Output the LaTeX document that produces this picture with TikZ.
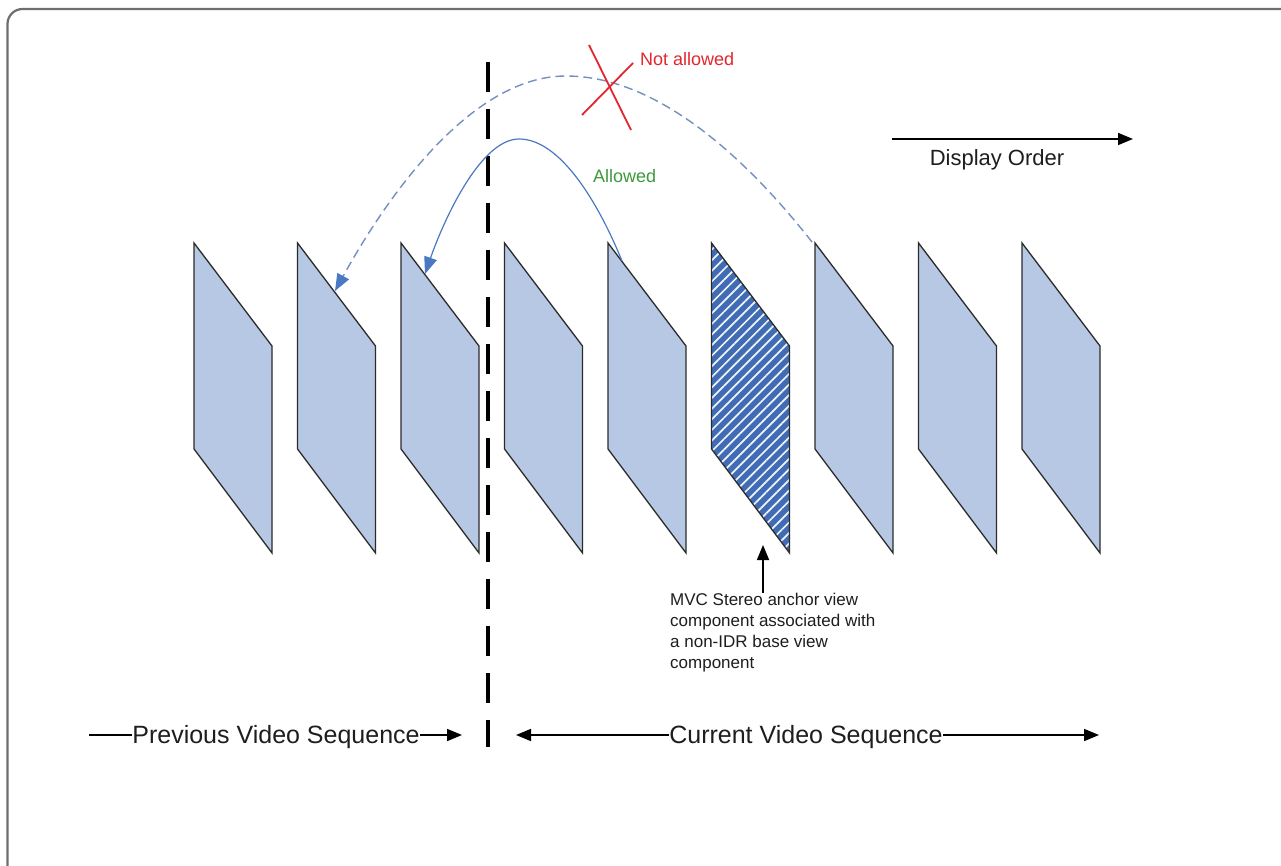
\documentclass[tikz,border=0pt]{standalone}
\usepackage{fontspec}
\setmainfont{Liberation Sans}
\usetikzlibrary{arrows.meta,patterns.meta}
\definecolor{framefill}{HTML}{B7C8E4}
\definecolor{hatchfill}{HTML}{3F6CB4}
\definecolor{edgecol}{HTML}{2B2B2B}
\definecolor{arcblue}{HTML}{4A78C2}
\definecolor{dashblue}{HTML}{7391C0}
\definecolor{notred}{HTML}{E3262E}
\definecolor{okgreen}{HTML}{3C9A3C}
\definecolor{txt}{HTML}{1E1E1E}
\definecolor{bordercol}{HTML}{6E6E6E}
\begin{document}
\begin{tikzpicture}[x=1pt,y=-1pt,
  picframe/.style={draw=edgecol, line width=1.3pt, fill=framefill, line join=miter},
  lbl/.style={inner sep=0.5pt, text=txt},
  blacktip/.style={-{Triangle[length=15pt,width=12pt]}, line width=1.6pt, draw=black},
  solidarc/.style={draw=arcblue, line width=1.2pt, -{Triangle[length=17pt,width=13pt,fill=arcblue,color=arcblue]}},
  dasharc/.style={draw=dashblue, line width=1.4pt, dash pattern=on 9pt off 5pt, -{Triangle[length=17pt,width=13pt,fill=arcblue,color=arcblue]}},
  seqline/.style={draw=black, line width=3.4pt, dash pattern=on 30pt off 17pt},
  redx/.style={draw=notred, line width=1.8pt}
]
\useasboundingbox (0,0) rectangle (1281,866);
\fill[white] (0,0) rectangle (1281,866);
% outer frame
\draw[bordercol, line width=2.2pt, rounded corners=15pt] (7.5,866) -- (7.5,9) -- (1281,9);

% picture frames
\foreach \i in {0,...,8} {
  \coordinate (f\i) at ({194+103.5*\i},243);
}
\foreach \i in {0,1,2,3,4,6,7,8} {
  \draw[picframe] (f\i) -- ++(78,103) -- ++(0,207) -- ++(-78,-104) -- cycle;
}
\fill[hatchfill] (f5) -- ++(78,103) -- ++(0,207) -- ++(-78,-104) -- cycle;
\fill[pattern={Lines[angle=45,distance=7.5pt,line width=1.7pt]}, pattern color=white!92!hatchfill]
  (f5) -- ++(78,103) -- ++(0,207) -- ++(-78,-104) -- cycle;
\draw[draw=edgecol, line width=1.3pt, line join=miter] (f5) -- ++(78,103) -- ++(0,207) -- ++(-78,-104) -- cycle;

% sequence boundary
\coordinate (septop) at (488,62);
\coordinate (sepbot) at (488,747);
\draw[seqline] (septop) -- (sepbot);

% arcs
\coordinate (dS) at (812,242);
\coordinate (dP) at (566,76);
\coordinate (dE) at (335,291);
\draw[dasharc] (dS) .. controls (757,172) and (665,76) .. (dP)
                    .. controls (470,76) and (385,200) .. (dE);
\coordinate (sS) at (622,261);
\coordinate (sP) at (519,139);
\coordinate (sE) at (425,274);
\draw[solidarc] (sS) .. controls (598,202) and (560,139) .. (sP)
                     .. controls (480,139) and (443,222) .. (sE);

% red cross
\coordinate (xa1) at (589,45);
\coordinate (xa2) at (631,130);
\coordinate (xb1) at (582,115);
\coordinate (xb2) at (633,63);
\draw[redx] (xa1) -- (xa2);
\draw[redx] (xb1) -- (xb2);

% labels
\node[anchor=base west, inner sep=0pt, text=notred, font=\fontsize{18}{22}\selectfont] (notok) at (640,66) {Not allowed};
\node[anchor=base west, inner sep=0pt, text=okgreen, font=\fontsize{18}{22}\selectfont] (ok) at (593,183) {Allowed};

% display order
\coordinate (dispS) at (892,139);
\coordinate (dispE) at (1133,139);
\draw[blacktip] (dispS) -- (dispE);
\node[lbl, anchor=base, font=\fontsize{22}{26}\selectfont] (disp) at (997,166) {Display Order};

% annotation
\node[anchor=north west, inner sep=0pt, align=left, text=txt, font=\fontsize{17}{21}\selectfont] (ann) at (670,592.5)
  {MVC Stereo anchor view\\component associated with\\a non-IDR base view\\component};
\coordinate (anntip) at (763,545);
\draw[blacktip] (ann.north -| anntip) -- (anntip);

% sequences
\node[lbl, anchor=base, font=\fontsize{25}{30}\selectfont] (prev) at (276,743) {Previous Video Sequence};
\node[lbl, anchor=base, font=\fontsize{25}{30}\selectfont] (cur) at (806,743) {Current Video Sequence};
\coordinate (prevL) at (89,735);
\coordinate (prevR) at (462,735);
\coordinate (curL) at (516,735);
\coordinate (curR) at (1099,735);
\draw[line width=1.6pt] (prevL) -- (prevL -| prev.west);
\draw[blacktip] (prev.east |- prevR) -- (prevR);
\draw[blacktip] (cur.west |- curL) -- (curL);
\draw[blacktip] (cur.east |- curR) -- (curR);
\end{tikzpicture}
\end{document}
